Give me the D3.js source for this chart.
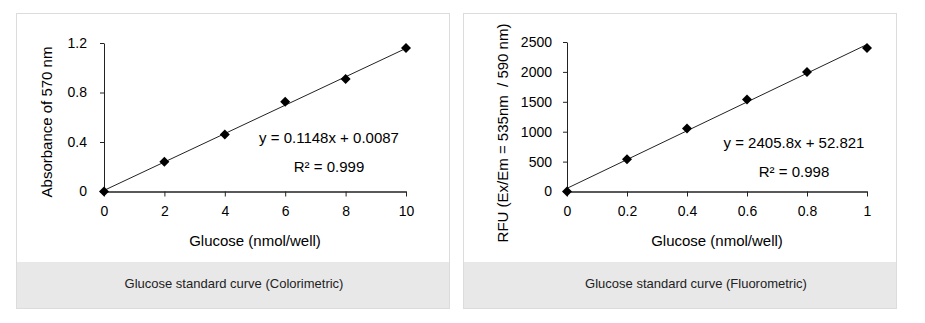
<!DOCTYPE html>
<html>
<head>
<meta charset="utf-8">
<script src="https://cdn.jsdelivr.net/npm/d3@7"></script>
<style>
  body { margin: 0; background: #fff; }
  text { font-family: "Liberation Sans", Arial, sans-serif; }
</style>
</head>
<body>
<div id="board"></div>
<script>
// data
const colorX = [0, 2, 4, 6, 8, 10];
const colorY = [0, 0.24, 0.46, 0.725, 0.91, 1.16];
const colorTicksY = [0, 0.4, 0.8, 1.2];
const colorFit = { slope: 0.1148, intercept: 0.0087 };

const fluoroX = [0, 0.2, 0.4, 0.6, 0.8, 1];
const fluoroY = [0, 540, 1055, 1540, 2000, 2400];
const fluoroTicksY = [0, 500, 1000, 1500, 2000, 2500];
const fluoroFit = { slope: 2405.8, intercept: 52.821 };

const width = 925;
const height = 323;

const svg = d3.create("svg")
    .attr("width", width)
    .attr("height", height);

// one panel = box + footer + chart
function panel(opt) {
    const g = svg.append("g");

    g.append("rect")
        .attr("x", opt.box[0] + 0.5)
        .attr("y", 13.5)
        .attr("width", opt.box[1] - opt.box[0])
        .attr("height", 295)
        .attr("fill", "#fff")
        .attr("stroke", "#dcdcdc");

    g.append("rect")
        .attr("x", opt.box[0] + 1)
        .attr("y", 262)
        .attr("width", opt.box[1] - opt.box[0] - 1)
        .attr("height", 46)
        .attr("fill", "#e8e8e8");

    g.append("text")
        .attr("x", opt.footerX)
        .attr("y", 288)
        .attr("text-anchor", "middle")
        .attr("font-size", 13)
        .attr("fill", "#222")
        .text(opt.footer);

    const x = d3.scaleLinear().domain(opt.xDomain).range(opt.xRange);
    const y = d3.scaleLinear().domain(opt.yDomain).range([191.5, opt.yTop]);

    // x axis
    const xa = g.append("g")
        .attr("transform", `translate(0,${y(0)})`)
        .call(d3.axisBottom(x).tickValues(opt.xs).tickFormat(d3.format("~g"))
            .tickSizeInner(5).tickSizeOuter(0).tickPadding(10));
    xa.select(".domain").attr("stroke", "#222").attr("stroke-width", 1.5);

    // y axis
    const ya = g.append("g")
        .attr("transform", `translate(${x(0)},0)`)
        .call(d3.axisLeft(y).tickValues(opt.yTicks).tickFormat(d3.format("~g"))
            .tickSizeInner(4).tickSizeOuter(0).tickPadding(opt.yPad));
    ya.select(".domain").attr("stroke", "#222");

    g.selectAll(".tick line").attr("stroke", "#222");
    g.selectAll(".tick text")
        .attr("font-size", 14)
        .attr("fill", "#000")
        .attr("font-family", "Liberation Sans, Arial, sans-serif");

    // trendline
    const x0 = opt.xDomain[0], x1 = opt.xDomain[1];
    g.append("line")
        .attr("x1", x(x0))
        .attr("y1", y(opt.fit.slope * x0 + opt.fit.intercept))
        .attr("x2", x(x1))
        .attr("y2", y(opt.fit.slope * x1 + opt.fit.intercept))
        .attr("stroke", "#222")
        .attr("stroke-width", 1);

    // diamonds
    g.selectAll("path.pt")
        .data(opt.xs.map((d, i) => [d, opt.ys[i]]))
        .enter()
        .append("path")
        .attr("class", "pt")
        .attr("d", d3.symbol(d3.symbolSquare, 50))
        .attr("transform", d => `translate(${x(d[0])},${y(d[1])}) rotate(45)`)
        .attr("fill", "#000");

    // equation
    g.append("text")
        .attr("x", opt.eqX)
        .attr("y", opt.eqY)
        .attr("text-anchor", "middle")
        .attr("font-size", 15)
        .attr("fill", "#000")
        .text(`y = ${opt.fit.slope}x + ${opt.fit.intercept}`);

    g.append("text")
        .attr("x", opt.eqX)
        .attr("y", opt.eqY + 29)
        .attr("text-anchor", "middle")
        .attr("font-size", 15)
        .attr("fill", "#000")
        .text(`R² = ${opt.r2}`);

    // axis titles
    g.append("text")
        .attr("x", (opt.xRange[0] + opt.xRange[1]) / 2)
        .attr("y", 246)
        .attr("text-anchor", "middle")
        .attr("font-size", 15)
        .attr("fill", "#000")
        .text("Glucose (nmol/well)");

    g.append("text")
        .attr("transform", `translate(${opt.yLabelX},${opt.yLabelY}) rotate(-90)`)
        .attr("text-anchor", "middle")
        .attr("font-size", 15)
        .attr("fill", "#000")
        .attr("xml:space", "preserve")
        .style("white-space", "pre")
        .text(opt.yLabel);
}

panel({
    box: [16, 449],
    footer: "Glucose standard curve (Colorimetric)",
    footerX: 234,
    xDomain: [0, 10], xRange: [104, 406],
    yDomain: [0, 1.2], yTop: 43,
    xs: colorX, ys: colorY, yTicks: colorTicksY,
    yPad: 13,
    fit: colorFit, r2: "0.999",
    eqX: 329, eqY: 143,
    yLabel: "Absorbance of 570 nm",
    yLabelX: 52, yLabelY: 122
});

panel({
    box: [463, 896],
    footer: "Glucose standard curve (Fluorometric)",
    footerX: 696,
    xDomain: [0, 1], xRange: [567, 867],
    yDomain: [0, 2500], yTop: 42,
    xs: fluoroX, ys: fluoroY, yTicks: fluoroTicksY,
    yPad: 11,
    fit: fluoroFit, r2: "0.998",
    eqX: 794, eqY: 148,
    yLabel: "RFU (Ex/Em = 535nm  / 590 nm)",
    yLabelX: 508, yLabelY: 133
});

document.getElementById("board").append(svg.node());
</script>
</body>
</html>
